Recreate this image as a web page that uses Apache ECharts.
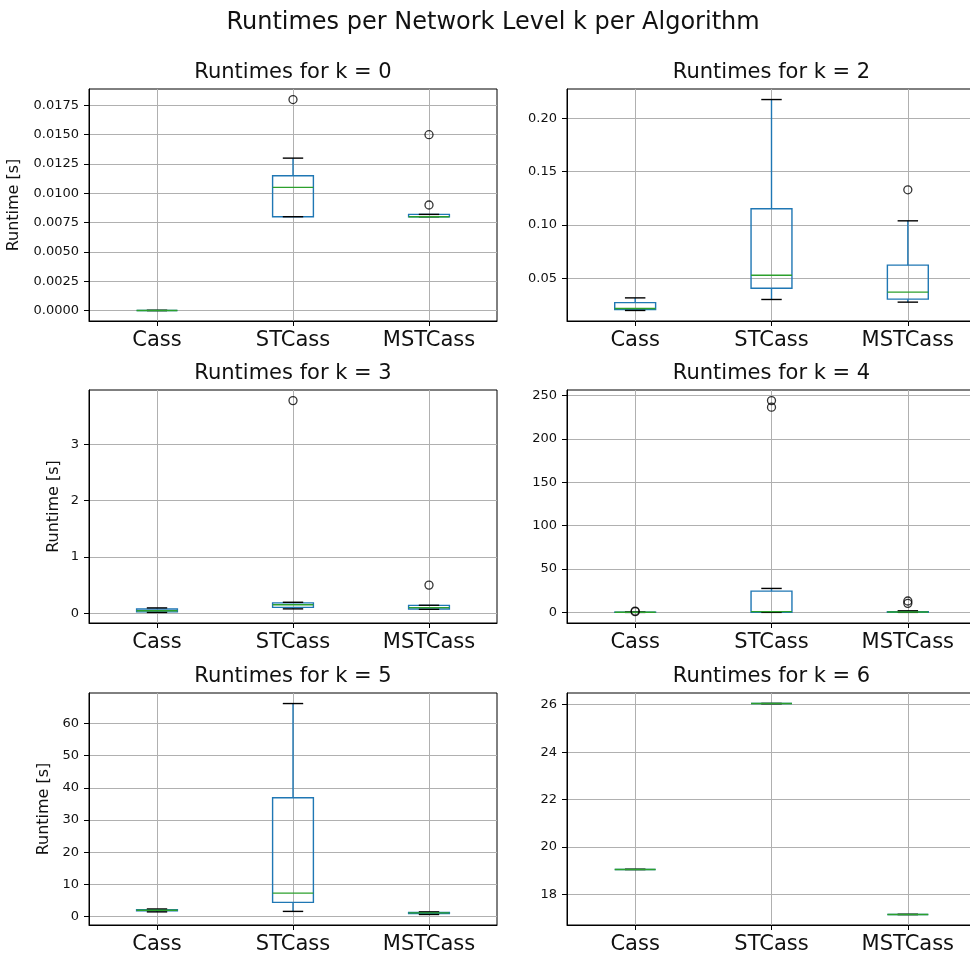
<!DOCTYPE html>
<html>
<head>
<meta charset="utf-8">
<script src="https://cdn.jsdelivr.net/npm/echarts@6/dist/echarts.min.js"></script>
<style>
  html, body { margin: 0; padding: 0; background: #fff; }
  #main { width: 970px; height: 953px; }
</style>
</head>
<body>
<div id="main"></div>
<script>
// algorithms on the x axis
var algorithms = ['Cass', 'STCass', 'MSTCass'];

// box values: [lower whisker, q1, median, q3, upper whisker]
// k = 0
var cassK0 = [0.0000, 0.0000, 0.0000, 0.0000, 0.0000];
var stcassK0 = [0.0080, 0.0080, 0.0105, 0.0115, 0.0130];
var mstcassK0 = [0.0080, 0.0080, 0.0080, 0.0082, 0.0082];
var stcassOutK0 = [0.0180];
var mstcassOutK0 = [0.0150, 0.0090];
var ticksK0 = ['0.0000', '0.0025', '0.0050', '0.0075', '0.0100', '0.0125', '0.0150', '0.0175'];

// k = 2
var cassK2 = [0.0197, 0.0206, 0.0215, 0.0270, 0.0315];
var stcassK2 = [0.0300, 0.0406, 0.0528, 0.1151, 0.2176];
var mstcassK2 = [0.0275, 0.0303, 0.0369, 0.0622, 0.1038];
var mstcassOutK2 = [0.1329];
var ticksK2 = ['0.05', '0.10', '0.15', '0.20'];

// k = 3
var cassK3 = [0.015, 0.025, 0.045, 0.075, 0.095];
var stcassK3 = [0.078, 0.105, 0.150, 0.185, 0.195];
var mstcassK3 = [0.070, 0.075, 0.100, 0.140, 0.142];
var stcassOutK3 = [3.78];
var mstcassOutK3 = [0.50];
var ticksK3 = ['0', '1', '2', '3'];

// k = 4
var cassK4 = [0.05, 0.10, 0.15, 0.25, 0.40];
var stcassK4 = [0.1, 0.3, 1.0, 24.6, 27.7];
var mstcassK4 = [0.1, 0.3, 0.5, 1.0, 1.9];
var cassOutK4 = [0.9, 1.6];
var stcassOutK4 = [244.3, 236.7];
var mstcassOutK4 = [10.5, 13.2];
var ticksK4 = ['0', '50', '100', '150', '200', '250'];

// k = 5
var cassK5 = [1.5, 1.8, 2.0, 2.2, 2.4];
var stcassK5 = [1.65, 4.44, 7.33, 36.96, 66.2];
var mstcassK5 = [0.7, 1.0, 1.2, 1.35, 1.5];
var ticksK5 = ['0', '10', '20', '30', '40', '50', '60'];

// k = 6 (one run each)
var cassK6 = [19.05, 19.05, 19.05, 19.05, 19.05];
var stcassK6 = [26.05, 26.05, 26.05, 26.05, 26.05];
var mstcassK6 = [17.15, 17.15, 17.15, 17.15, 17.15];
var ticksK6 = ['18', '20', '22', '24', '26'];

var panels = [
    {k: 0, boxes: [cassK0, stcassK0, mstcassK0], out: [[], stcassOutK0, mstcassOutK0], ticks: ticksK0, ylabel: true},
    {k: 2, boxes: [cassK2, stcassK2, mstcassK2], out: [[], [], mstcassOutK2], ticks: ticksK2, ylabel: false},
    {k: 3, boxes: [cassK3, stcassK3, mstcassK3], out: [[], stcassOutK3, mstcassOutK3], ticks: ticksK3, ylabel: true},
    {k: 4, boxes: [cassK4, stcassK4, mstcassK4], out: [cassOutK4, stcassOutK4, mstcassOutK4], ticks: ticksK4, ylabel: false},
    {k: 5, boxes: [cassK5, stcassK5, mstcassK5], out: [[], [], []], ticks: ticksK5, ylabel: true},
    {k: 6, boxes: [cassK6, stcassK6, mstcassK6], out: [[], [], []], ticks: ticksK6, ylabel: false}
];

var BLUE = '#1f77b4', GREEN = '#2ca02c', TEXT = '#111';
var FONT = 'DejaVu Sans';
var colLeft = [89, 567], colWidth = [408, 409];
var rowTop = [89, 390, 693], rowHeight = [232, 233, 232];
var nameGaps = [67, 0, 27, 0, 37, 0];

function renderBox(params, api) {
    var idx = api.value(0);
    var lo = api.coord([idx, api.value(1)]);
    var q1 = api.coord([idx, api.value(2)]);
    var med = api.coord([idx, api.value(3)]);
    var q3 = api.coord([idx, api.value(4)]);
    var hi = api.coord([idx, api.value(5)]);
    var band = api.size([1, 0])[0];
    var half = band * 0.15, cap = band * 0.075;
    var x = lo[0], lw = 1.4;
    return {
        type: 'group',
        children: [
            {type: 'line', shape: {x1: x, y1: q1[1], x2: x, y2: lo[1]}, style: {stroke: BLUE, lineWidth: lw}},
            {type: 'line', shape: {x1: x, y1: q3[1], x2: x, y2: hi[1]}, style: {stroke: BLUE, lineWidth: lw}},
            {type: 'rect', shape: {x: x - half, y: q3[1], width: 2 * half, height: q1[1] - q3[1]},
                style: {stroke: BLUE, fill: null, lineWidth: lw}},
            {type: 'line', shape: {x1: x - cap, y1: lo[1], x2: x + cap, y2: lo[1]}, style: {stroke: '#000', lineWidth: lw}},
            {type: 'line', shape: {x1: x - cap, y1: hi[1], x2: x + cap, y2: hi[1]}, style: {stroke: '#000', lineWidth: lw}},
            {type: 'line', shape: {x1: x - half, y1: med[1], x2: x + half, y2: med[1]}, style: {stroke: GREEN, lineWidth: lw}}
        ]
    };
}

function labelFor(ticks) {
    return function (v) {
        for (var i = 0; i < ticks.length; i++) {
            if (Math.abs(Number(ticks[i]) - v) < 1e-9) return ticks[i];
        }
        return '';
    };
}

var option = {
    animation: false,
    backgroundColor: '#fff',
    title: [{
        text: 'Runtimes per Network Level k per Algorithm',
        left: 493, top: 11, textAlign: 'center', padding: 0,
        textStyle: {fontFamily: FONT, fontSize: 24, fontWeight: 'normal', color: TEXT}
    }],
    grid: [], xAxis: [], yAxis: [], series: []
};

panels.forEach(function (p, i) {
    var col = i % 2, row = Math.floor(i / 2);
    var all = [];
    p.boxes.forEach(function (b) { all = all.concat(b); });
    p.out.forEach(function (o) { all = all.concat(o); });
    var lo = Math.min.apply(null, all), hi = Math.max.apply(null, all);
    var pad = (hi - lo) * 0.05;
    var tickVals = p.ticks.map(Number);
    var step = tickVals[1] - tickVals[0];

    option.title.push({
        text: 'Runtimes for k = ' + p.k,
        left: colLeft[col] + colWidth[col] / 2, top: rowTop[row] - 27,
        textAlign: 'center', padding: 0,
        textStyle: {fontFamily: FONT, fontSize: 21, fontWeight: 'normal', color: TEXT}
    });
    option.grid.push({
        left: colLeft[col], top: rowTop[row], width: colWidth[col], height: rowHeight[row],
        show: true, borderColor: '#000', borderWidth: 1, backgroundColor: '#fff',
        outerBoundsMode: 'none', containLabel: false
    });
    option.xAxis.push({
        type: 'category', gridIndex: i, data: algorithms, boundaryGap: true,
        axisLine: {show: true, onZero: false, lineStyle: {color: '#000', width: 1}},
        axisTick: {show: true, alignWithLabel: true, length: 5, lineStyle: {color: '#000'}},
        axisLabel: {fontFamily: FONT, fontSize: 21, color: TEXT, margin: 9},
        splitLine: {show: true, alignWithLabel: true, lineStyle: {color: '#b0b0b0', width: 1}}
    });
    option.yAxis.push({
        type: 'value', gridIndex: i, min: lo - pad, max: hi + pad,
        minInterval: step, maxInterval: step,
        name: p.ylabel ? 'Runtime [s]' : '', nameLocation: 'middle', nameRotate: 90, nameGap: nameGaps[i],
        nameTextStyle: {fontFamily: FONT, fontSize: 16, color: TEXT},
        axisLine: {show: true, onZero: false, lineStyle: {color: '#000', width: 1}},
        axisTick: {show: true, length: 5, customValues: tickVals, lineStyle: {color: '#000'}},
        axisLabel: {fontFamily: FONT, fontSize: 13, color: TEXT, margin: 10,
            customValues: tickVals, formatter: labelFor(p.ticks)},
        splitLine: {show: true, lineStyle: {color: '#b0b0b0', width: 1}}
    });
    option.series.push({
        type: 'custom', xAxisIndex: i, yAxisIndex: i,
        renderItem: renderBox,
        encode: {x: 0, y: [1, 2, 3, 4, 5]},
        data: p.boxes.map(function (b, j) { return [j].concat(b); }),
        z: 3
    });
    var fl = [];
    p.out.forEach(function (o, j) { o.forEach(function (v) { fl.push([j, v]); }); });
    option.series.push({
        type: 'scatter', xAxisIndex: i, yAxisIndex: i,
        symbol: 'circle', symbolSize: 8,
        itemStyle: {color: 'rgba(0,0,0,0)', borderColor: '#000', borderWidth: 1.3},
        data: fl, z: 4
    });
});

var chart = echarts.init(document.getElementById('main'));
chart.setOption(option);
</script>
</body>
</html>
